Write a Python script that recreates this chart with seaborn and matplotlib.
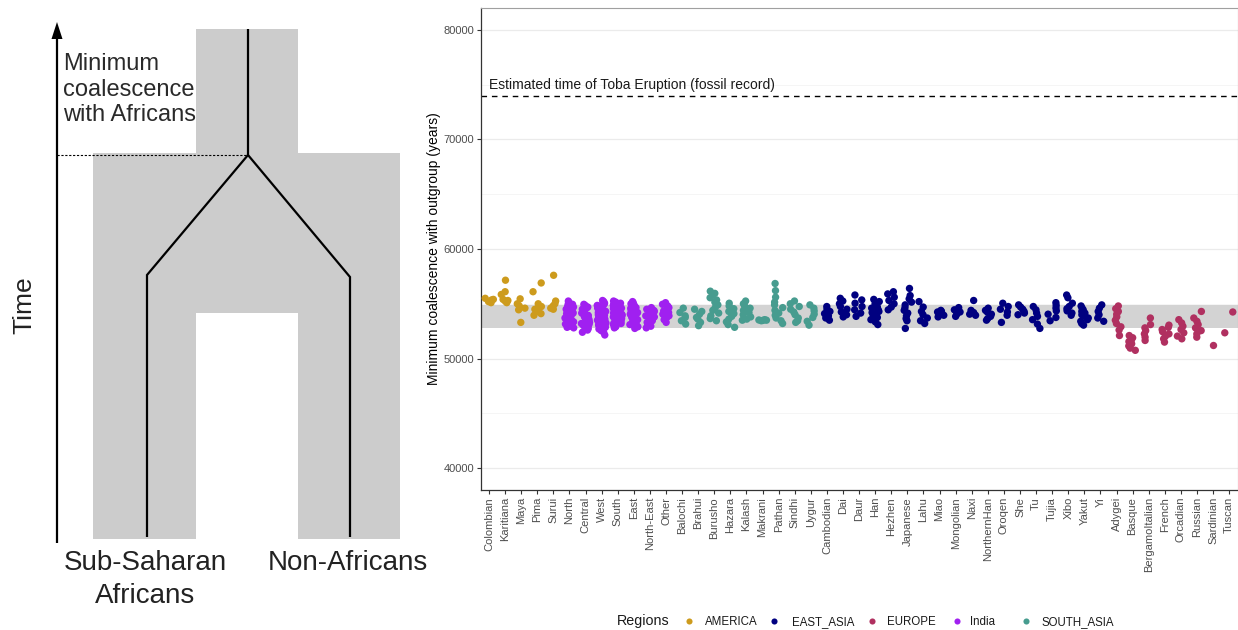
import numpy as np
import pandas as pd
import matplotlib
matplotlib.use("Agg")
import matplotlib.pyplot as plt
from matplotlib.patches import Polygon
from matplotlib.lines import Line2D
from matplotlib.ticker import MultipleLocator
import seaborn as sns

# ---------------------------------------------------------------- data
america_pops = ["Colombian", "Karitiana", "Maya", "Pima", "Surui"]
america_vals = [
    [55500, 55350, 55200, 55100, 55400],
    [57150, 56100, 55850, 55400, 55250, 55100, 55300],
    [55450, 55000, 54800, 54600, 54450, 53300],
    [56900, 56100, 55000, 54750, 54500, 54300, 54100, 53950],
    [57600, 55250, 55000, 54800, 54600, 54500],
]

india_pops = ["North", "Central", "West", "South", "East", "North-East", "Other"]
india_vals = [
    [55250, 55100, 55000, 54950, 54850, 54800, 54750, 54650, 54600, 54550,
     54450, 54400, 54350, 54300, 54200, 54150, 54100, 54050, 54000, 53950,
     53900, 53800, 53750, 53700, 53650, 53550, 53500, 53400, 53350, 53250,
     53150, 53050, 52950, 52850, 52800, 54700, 54250, 53850, 53300, 54500],
    [54950, 54850, 54700, 54600, 54500, 54400, 54350, 54250, 54200, 54100,
     54050, 53950, 53900, 53800, 53700, 53650, 53550, 53500, 53400, 53300,
     53200, 53100, 53000, 52900, 52750, 52600, 52400, 54650, 54150, 53850,
     53450, 53050],
    [55300, 55200, 55050, 54950, 54850, 54750, 54700, 54600, 54500, 54450,
     54350, 54300, 54200, 54150, 54050, 54000, 53900, 53850, 53750, 53700,
     53600, 53500, 53450, 53350, 53250, 53150, 53050, 52950, 52850, 52700,
     52550, 52400, 52150, 54800, 54400, 53950, 53550, 53100],
    [55250, 55150, 55050, 54950, 54850, 54800, 54700, 54650, 54550, 54500,
     54400, 54350, 54250, 54200, 54100, 54050, 53950, 53900, 53800, 53750,
     53650, 53600, 53500, 53400, 53300, 53200, 53100, 53000, 52900, 52800,
     54600, 54150, 53700, 53250],
    [55200, 55100, 55000, 54900, 54800, 54750, 54650, 54600, 54500, 54450,
     54350, 54300, 54200, 54150, 54050, 54000, 53900, 53850, 53750, 53650,
     53550, 53500, 53400, 53300, 53200, 53100, 53000, 52900, 52750, 54550,
     54100, 53700],
    [54650, 54500, 54350, 54250, 54150, 54000, 53900, 53800, 53650, 53550,
     53450, 53300, 53200, 53050, 52950, 52800, 54400, 53750],
    [55100, 54950, 54800, 54650, 54500, 54350, 54200, 54050, 53900, 53750,
     53550, 53300],
]

south_asia_pops = ["Balochi", "Brahui", "Burusho", "Hazara", "Kalash",
                   "Makrani", "Pathan", "Sindhi", "Uygur"]
south_asia_vals = [
    [54600, 54200, 53750, 53450, 53150, 53900],
    [54500, 54050, 53750, 53300, 53000, 53600, 54300],
    [56150, 55950, 55800, 55550, 55350, 55150, 54900, 54650, 54400, 54150,
     53900, 53650, 53450],
    [55050, 54800, 54550, 54300, 54100, 53850, 53600, 53350, 53100, 52850],
    [55250, 55000, 54800, 54600, 54400, 54200, 54000, 53800, 53600, 53500],
    [53500, 53450, 53550, 53480, 53520],
    [56850, 56200, 55600, 55150, 54900, 54650, 54400, 54150, 53950, 53700,
     53450, 53200],
    [55250, 55000, 54750, 54500, 54250, 54000, 53700, 53450, 53300],
    [54900, 54600, 54350, 54050, 53750, 53400, 53050],
]

east_asia_pops = ["Cambodian", "Dai", "Daur", "Han", "Hezhen", "Japanese",
                  "Lahu", "Miao", "Mongolian", "Naxi", "NorthernHan", "Oroqen",
                  "She", "Tu", "Tujia", "Xibo", "Yakut", "Yi"]
east_asia_vals = [
    [54750, 54500, 54300, 54100, 53900, 53700, 53500],
    [55500, 55250, 55000, 54750, 54500, 54250, 54000, 53800],
    [55800, 55350, 55050, 54750, 54450, 54150, 53850],
    [55400, 55200, 55000, 54850, 54700, 54600, 54450, 54300, 54200, 54050,
     53900, 53750, 53550, 53350, 53100],
    [56100, 55900, 55600, 55300, 55000, 54700, 54450],
    [56400, 55750, 55450, 55150, 54900, 54650, 54400, 54150, 53900, 53650,
     53450, 52750],
    [55200, 54700, 54300, 54000, 53700, 53450, 53200],
    [54400, 54250, 54100, 53950, 53800, 54300],
    [54650, 54450, 54250, 54050, 53850],
    [55300, 54400, 54200, 54050, 53950],
    [54600, 54400, 54250, 54050, 53850, 53650, 53500],
    [55050, 54750, 54500, 54250, 53950, 53300],
    [54900, 54700, 54500, 54300, 54150, 54000],
    [54750, 54450, 54150, 53850, 53550, 53150, 52750],
    [55100, 54850, 54600, 54350, 54050, 53750, 53450],
    [55800, 55550, 55050, 54750, 54550, 54350, 54150, 53950],
    [54800, 54600, 54450, 54300, 54150, 54000, 53850, 53700, 53550, 53400,
     53200, 53050],
    [54900, 54600, 54300, 54000, 53700, 53400],
]

europe_pops = ["Adygei", "Basque", "BergamoItalian", "French", "Orcadian",
               "Russian", "Sardinian", "Tuscan"]
europe_vals = [
    [54800, 54550, 54300, 54050, 53800, 53500, 53200, 52900, 52600, 52100],
    [52100, 51900, 51700, 51550, 51350, 51150, 50950, 50750],
    [53700, 53100, 52800, 52550, 52250, 51950, 51650],
    [53050, 52850, 52650, 52450, 52250, 52050, 51800, 51500],
    [53550, 53250, 52950, 52650, 52350, 52050, 51800],
    [54300, 53700, 53400, 53100, 52800, 52550, 52250, 51950],
    [51200],
    [54250, 52350],
]

regions = ["AMERICA", "EAST_ASIA", "EUROPE", "India", "SOUTH_ASIA"]
region_colors = ["#CD9B1D", "#000080", "#B03060", "#A020F0", "#479C8F"]

band_low, band_high = 52800, 54900
toba_time = 74000
toba_label = "Estimated time of Toba Eruption (fossil record)"

# ---------------------------------------------------------------- table
groups = [
    ("AMERICA", america_pops, america_vals),
    ("India", india_pops, india_vals),
    ("SOUTH_ASIA", south_asia_pops, south_asia_vals),
    ("EAST_ASIA", east_asia_pops, east_asia_vals),
    ("EUROPE", europe_pops, europe_vals),
]
rows = []
order = []
for region, pops, vals in groups:
    for pop, v in zip(pops, vals):
        order.append(pop)
        for y in v:
            rows.append((pop, region, y))
df = pd.DataFrame(rows, columns=["population", "region", "years"])

# ---------------------------------------------------------------- figure
sns.set_theme(style="white")
plt.rcParams["font.family"] = ["Liberation Sans", "DejaVu Sans"]

W, H = 1238, 630
fig = plt.figure(figsize=(W / 100, H / 100), dpi=100)

# ---- schematic of the split (pixel coordinates)
axl = fig.add_axes([0, 0, 430 / W, 1])
axl.set_xlim(0, 430)
axl.set_ylim(H, 0)
axl.axis("off")

shape = [(93, 539), (93, 153), (196, 153), (196, 29), (298, 29), (298, 153),
         (400, 153), (400, 539), (298, 539), (298, 313), (196, 313), (196, 539)]
axl.add_patch(Polygon(shape, closed=True, facecolor="#CCCCCC", edgecolor="none"))

axl.plot([248, 248], [29, 155], color="black", lw=1.6, solid_capstyle="butt")
axl.plot([147, 147, 248, 350, 350], [537, 275, 155, 277, 537], color="black",
         lw=1.6, solid_joinstyle="miter", solid_capstyle="butt")
axl.plot([57, 248], [155, 155], color="black", lw=0.8, ls=(0, (2, 1.5)))

axl.plot([57, 57], [543, 38], color="black", lw=1.6, solid_capstyle="butt")
axl.add_patch(Polygon([(51.5, 39), (62.5, 39), (57, 22)], closed=True,
                      facecolor="black", edgecolor="none"))

axl.text(63, 53, "Minimum\ncoalescence\nwith Africans", fontsize=17,
         color="#2A2A2A", ha="left", va="top", linespacing=1.22)
axl.text(24, 305, "Time", fontsize=19, rotation=90, ha="center", va="center",
         color="#222222")
axl.text(145, 550, "Sub-Saharan\nAfricans", fontsize=20, ha="center", va="top",
         color="#222222", linespacing=1.33)
axl.text(348, 550, "Non-Africans", fontsize=20, ha="center", va="top",
         color="#222222")

# ---- strip plot of the per-population estimates
ax = fig.add_axes([481 / W, 1 - 490 / H, 757 / W, 482 / H])
ax.axhspan(band_low, band_high, color="#D3D3D3", zorder=0.6, lw=0)
ax.axhline(toba_time, color="black", lw=1.0, ls=(0, (4, 3.5)), zorder=1)

np.random.seed(7)
sns.stripplot(data=df, x="population", y="years", hue="region", order=order,
              hue_order=regions, palette=dict(zip(regions, region_colors)),
              jitter=0.28, size=5.3, linewidth=0, ax=ax, legend=False, zorder=3)

ax.text(0, toba_time + 300, toba_label, fontsize=10, ha="left", va="bottom",
        color="#1A1A1A")

ax.set_ylim(38000, 82000)
ax.set_xlim(-0.5, len(order) - 0.45)
ax.yaxis.set_major_locator(MultipleLocator(10000))
ax.yaxis.set_minor_locator(MultipleLocator(5000))
ax.grid(which="major", axis="y", color="#EBEBEB", lw=0.9, zorder=0)
ax.grid(which="minor", axis="y", color="#F4F4F4", lw=0.6, zorder=0)
ax.grid(which="major", axis="x", visible=False)
ax.set_axisbelow(True)

ax.set_xlabel("")
ax.set_ylabel("Minimum coalescence with outgroup (years)", fontsize=10,
              color="black", labelpad=2)
ax.set_yticks([40000, 50000, 60000, 70000, 80000])
ax.set_yticklabels(["40000", "50000", "60000", "70000", "80000"])
ax.tick_params(axis="y", which="major", labelsize=8, labelcolor="#4D4D4D",
               color="#333333", length=3, width=0.8, pad=2, left=True)
ax.tick_params(axis="y", which="minor", length=0)
ax.tick_params(axis="x", labelsize=8, labelcolor="#4D4D4D", color="#333333",
               length=3, width=0.8, pad=2, bottom=True, labelrotation=90)

for side in ["left", "bottom"]:
    ax.spines[side].set_color("#333333")
    ax.spines[side].set_linewidth(0.9)
for side in ["top", "right"]:
    ax.spines[side].set_color("#A0A0A0")
    ax.spines[side].set_linewidth(0.8)

# ---- legend along the bottom (keys laid out on one baseline)
legend_y = 1 - 625 / H
key_x = [689, 774, 872, 957, 1026]
label_x = [705, 792, 887, 970, 1041]
fig.text(617 / W, legend_y, "Regions", fontsize=10.3, ha="left",
         va="baseline", color="#1A1A1A")
for region, color, kx, lx in zip(regions, region_colors, key_x, label_x):
    fig.add_artist(Line2D([kx / W], [1 - 621 / H], ls="", marker="o",
                          markersize=4.4, color=color, markeredgewidth=0,
                          transform=fig.transFigure))
    fig.text(lx / W, legend_y, region, fontsize=8.3, ha="left",
             va="baseline", color="#1A1A1A")

fig.savefig("out.png", dpi=100)
